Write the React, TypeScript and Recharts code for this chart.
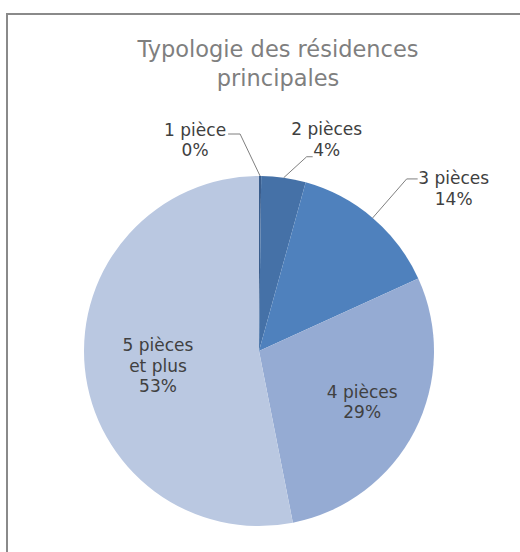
import { Cell, Pie, PieChart } from "recharts";

const categories = ["1 pièce", "2 pièces", "3 pièces", "4 pièces", "5 pièces\net plus"];
const shares = [0.2, 4.1, 13.9, 28.7, 53.1];
const colors = ["#3a5d8c", "#4571a7", "#4f81bd", "#95abd3", "#bac8e1"];

const data = categories.map((name, i) => ({ name, value: shares[i] }));

const FONT = "'DejaVu Sans', sans-serif";
const RAD = Math.PI / 180;
const LH = 20.5;

// label placement per slice: outside with leader line, or inside at a radius fraction
const labelLayout = [
  { out: true, elbow: [-20, -42], tail: -12, text: [-33, 6] },
  { out: true, elbow: [23, -21], tail: 6, text: [14, -17] },
  { out: true, elbow: [34, -39], tail: 11, text: [36, 9.5] },
  { out: false, r: 0.65, shift: [2, -1] },
  { out: false, r: 0.58, shift: [0, 5] },
];

function renderLabel(props: any) {
  const { cx, cy, midAngle, outerRadius, index, percent } = props;
  const cfg: any = labelLayout[index];
  const cos = Math.cos(-midAngle * RAD);
  const sin = Math.sin(-midAngle * RAD);
  const lines = [...categories[index].split("\n"), `${Math.round(percent * 100)}%`];

  let bx: number, by: number;
  let leader = null;
  if (cfg.out) {
    const sx = cx + outerRadius * cos;
    const sy = cy + outerRadius * sin;
    const ex = sx + cfg.elbow[0];
    const ey = sy + cfg.elbow[1];
    const tx = ex + cfg.tail;
    leader = (
      <polyline points={`${sx},${sy} ${ex},${ey} ${tx},${ey}`} fill="none" stroke="#7f7f7f" strokeWidth={1} />
    );
    bx = tx + cfg.text[0];
    by = ey + cfg.text[1];
  } else {
    bx = cx + outerRadius * cfg.r * cos + cfg.shift[0];
    by = cy + outerRadius * cfg.r * sin + cfg.shift[1];
  }

  return (
    <g key={`lbl-${index}`}>
      {leader}
      <text x={bx} y={by} textAnchor="middle" fill="#404040" fontFamily={FONT} fontSize={17}>
        {lines.map((l, i) => (
          <tspan key={i} x={bx} y={by + (i - (lines.length - 1) / 2) * LH} dy="0.35em">
            {l}
          </tspan>
        ))}
      </text>
    </g>
  );
}

export default function App() {
  return (
    <div
      style={{
        position: "absolute",
        left: 0,
        top: 0,
        width: 520,
        height: 552,
        overflow: "hidden",
        background: "#fff",
      }}
    >
      <div
        style={{
          position: "absolute",
          left: 6,
          top: 13,
          width: 560,
          height: 620,
          borderLeft: "2px solid #8a8a8a",
          borderTop: "2px solid #8a8a8a",
        }}
      />
      <div
        style={{
          position: "absolute",
          left: 6,
          top: 35,
          width: 544,
          textAlign: "center",
          fontFamily: FONT,
          fontSize: 22.5,
          lineHeight: "29px",
          color: "#7f7f7f",
        }}
      >
        Typologie des résidences
        <br />
        principales
      </div>
      <div style={{ position: "absolute", left: 0, top: 0 }}>
        <PieChart width={520} height={552} margin={{ top: 0, right: 0, bottom: 0, left: 0 }}>
          <Pie
            data={data}
            dataKey="value"
            nameKey="name"
            cx={259}
            cy={351}
            outerRadius={175}
            startAngle={90}
            endAngle={-270}
            stroke="none"
            label={renderLabel}
            labelLine={false}
            isAnimationActive={false}
          >
            {data.map((d, i) => (
              <Cell key={d.name} fill={colors[i]} />
            ))}
          </Pie>
        </PieChart>
      </div>
    </div>
  );
}
